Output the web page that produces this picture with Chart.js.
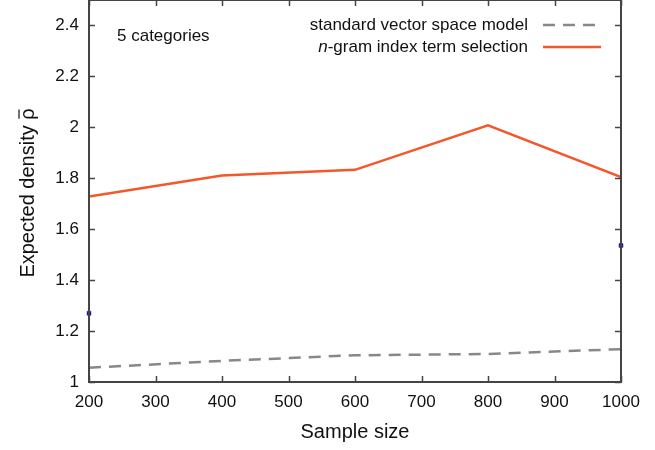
<!DOCTYPE html>
<html>
<head>
<meta charset="utf-8">
<script src="https://cdn.jsdelivr.net/npm/chart.js@4.4.1/dist/chart.umd.min.js"></script>
<style>
  html, body { margin: 0; padding: 0; background: #fff; }
  #wrap { width: 655px; height: 450px; }
</style>
</head>
<body>
<div id="wrap"><canvas id="densityChart"></canvas></div>
<script>
// sample sizes on the x axis
const sampleSizes = [200, 400, 600, 800, 1000];
// expected density, standard vector space model (dashed gray)
const vsmDensity = [1.056, 1.083, 1.105, 1.110, 1.129];
// expected density, n-gram index term selection (red)
const ngramDensity = [1.728, 1.811, 1.833, 2.008, 1.805];
// the two small blue marks at the plot edges
const edgeX = [200, 1000];
const edgeY = [1.27, 1.536];

const seriesNames = ["standard vector space model", "-gram index term selection"];
const noteText = "5 categories";
const yTitle = "Expected density \u03C1";

const FONT = "'Liberation Sans', Arial, Helvetica, sans-serif";
const AXIS_COLOR = "#444444";
const GRAY = "#888888";
const RED = "#f4582a";

function toPoints(xs, ys) {
  return xs.map((x, i) => ({ x: x, y: ys[i] }));
}

// draws the box, inward ticks, y title, the note and the legend
const framePlugin = {
  id: "frame",
  afterDatasetsDraw(chart) {
    const ctx = chart.ctx;
    const area = chart.chartArea;
    const xs = chart.scales.x;
    const ys = chart.scales.y;
    ctx.save();
    ctx.strokeStyle = AXIS_COLOR;
    ctx.lineWidth = 2;
    ctx.strokeRect(area.left, area.top, area.right - area.left, area.bottom - area.top);

    const tick = 6;
    ctx.lineWidth = 1.5;
    ctx.beginPath();
    xs.ticks.forEach((t) => {
      const px = Math.round(xs.getPixelForValue(t.value)) + 0.5;
      ctx.moveTo(px, area.bottom);
      ctx.lineTo(px, area.bottom - tick);
      ctx.moveTo(px, area.top);
      ctx.lineTo(px, area.top + tick);
    });
    ys.ticks.forEach((t) => {
      const py = Math.round(ys.getPixelForValue(t.value)) + 0.5;
      ctx.moveTo(area.left, py);
      ctx.lineTo(area.left + tick, py);
      ctx.moveTo(area.right, py);
      ctx.lineTo(area.right - tick, py);
    });
    ctx.stroke();

    // y axis title with a bar over rho
    ctx.save();
    ctx.translate(28, (area.top + area.bottom) / 2 + 2);
    ctx.rotate(-Math.PI / 2);
    ctx.fillStyle = "#111";
    ctx.font = "20px " + FONT;
    ctx.textAlign = "center";
    ctx.textBaseline = "middle";
    ctx.fillText(yTitle, 0, 0);
    const fullW = ctx.measureText(yTitle).width;
    const rhoW = ctx.measureText("\u03C1").width;
    ctx.strokeStyle = "#111";
    ctx.lineWidth = 1.2;
    ctx.beginPath();
    ctx.moveTo(fullW / 2 - rhoW + 1, -9);
    ctx.lineTo(fullW / 2 - 1, -9);
    ctx.stroke();
    ctx.restore();

    // note
    ctx.fillStyle = "#111";
    ctx.font = "17px " + FONT;
    ctx.textBaseline = "middle";
    ctx.textAlign = "left";
    ctx.fillText(noteText, 117, 36);

    // legend
    const textRight = 528;
    ctx.textAlign = "right";
    ctx.fillText(seriesNames[0], textRight, 25);
    const rest = seriesNames[1];
    const restW = ctx.measureText(rest).width;
    ctx.fillText(rest, textRight, 47);
    ctx.font = "italic 17px " + FONT;
    ctx.fillText("n", textRight - restW, 47);

    ctx.lineWidth = 2.5;
    ctx.strokeStyle = GRAY;
    ctx.setLineDash([12, 8]);
    ctx.beginPath();
    ctx.moveTo(543, 25);
    ctx.lineTo(600, 25);
    ctx.stroke();
    ctx.setLineDash([]);
    ctx.strokeStyle = RED;
    ctx.beginPath();
    ctx.moveTo(543, 47);
    ctx.lineTo(601, 47);
    ctx.stroke();
    ctx.restore();
  },
};

const ctx = document.getElementById("densityChart").getContext("2d");
const densityChart = new Chart(ctx, {
  type: "line",
  data: {
    datasets: [
      {
        label: "edge marks",
        data: toPoints(edgeX, edgeY),
        showLine: false,
        pointStyle: "rect",
        pointRadius: 2.8,
        pointBackgroundColor: "#1c1ca0",
        pointBorderColor: "#1c1ca0",
        pointBorderWidth: 0.5,
        clip: false,
      },
      {
        label: "standard vector space model",
        data: toPoints(sampleSizes, vsmDensity),
        borderColor: GRAY,
        borderWidth: 2.5,
        borderDash: [12, 8],
        pointRadius: 0,
        tension: 0,
        fill: false,
      },
      {
        label: "n-gram index term selection",
        data: toPoints(sampleSizes, ngramDensity),
        borderColor: RED,
        borderWidth: 2.5,
        pointRadius: 0,
        tension: 0,
        fill: false,
      },
    ],
  },
  options: {
    responsive: true,
    maintainAspectRatio: false,
    animation: false,
    layout: { autoPadding: false, padding: { top: 0, right: 34, left: 0, bottom: 0 } },
    plugins: {
      legend: { display: false },
      tooltip: { enabled: false },
    },
    scales: {
      x: {
        type: "linear",
        min: 200,
        max: 1000,
        afterFit: (scale) => {
          scale.height = 68;
          scale.paddingLeft = 0;
          scale.paddingRight = 0;
        },
        grid: { display: false, drawTicks: false },
        border: { display: false },
        ticks: {
          stepSize: 100,
          padding: 10,
          color: "#111",
          font: { family: FONT, size: 17 },
          maxRotation: 0,
          callback: (v) => String(v),
        },
        title: {
          display: true,
          text: "Sample size",
          color: "#111",
          padding: { top: 0, bottom: 6 },
          font: { family: FONT, size: 20 },
        },
      },
      y: {
        min: 1,
        max: 2.5,
        afterFit: (scale) => {
          scale.width = 89;
          scale.paddingTop = 0;
          scale.paddingBottom = 0;
        },
        grid: { display: false, drawTicks: false },
        border: { display: false },
        ticks: {
          stepSize: 0.2,
          includeBounds: false,
          padding: 10,
          color: "#111",
          font: { family: FONT, size: 17 },
          callback: (v) => String(Math.round(v * 10) / 10),
        },
        title: { display: false },
      },
    },
  },
  plugins: [framePlugin],
});
</script>
</body>
</html>
